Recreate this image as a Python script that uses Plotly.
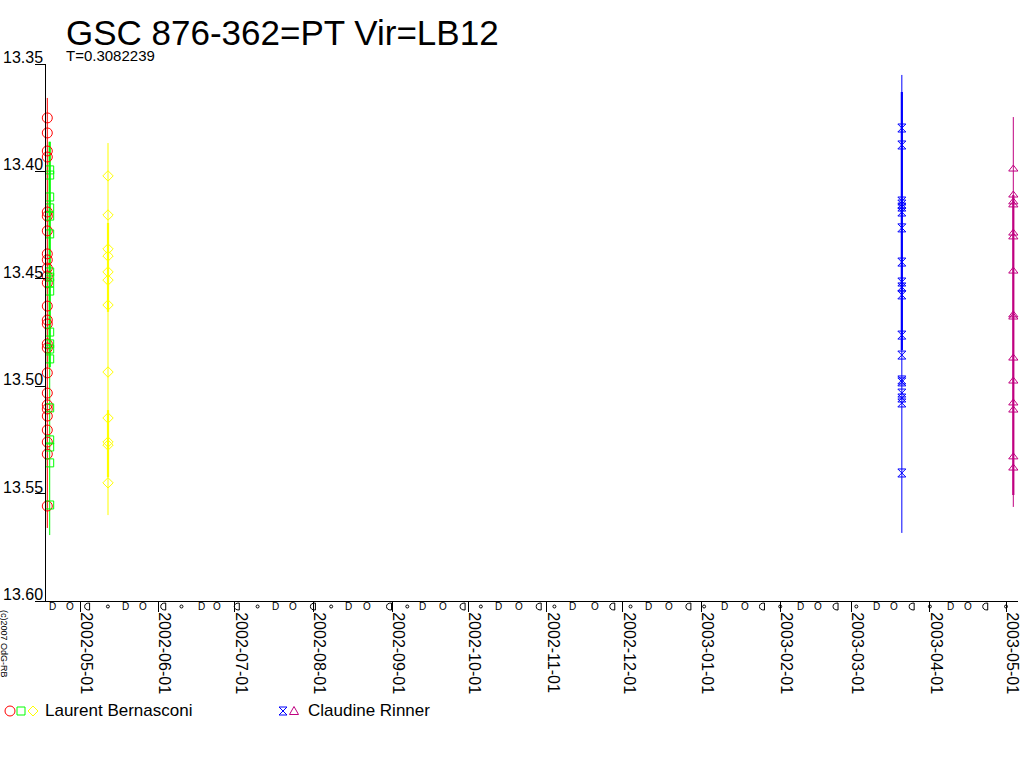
import plotly.graph_objects as go

# ---------------- data ----------------
title_text = "GSC 876-362=PT Vir=LB12"
period_text = "T=0.3082239"
credit_text = "(c)2007 OdG-RB"

x_range = ["2002-04-17 14:24", "2003-05-05 17:20"]
y_range = [13.60, 13.35]
y_ticks = [13.35, 13.40, 13.45, 13.50, 13.55, 13.60]
y_ticklabels = ["13.35", "13.40", "13.45", "13.50", "13.55", "13.60"]

observer_names = ["Laurent Bernasconi", "Claudine Rinner"]

# Laurent Bernasconi, night 1 (red circles)
lb1_date = "2002-04-18 02:40"
lb1_mag = [13.3751, 13.3821, 13.3905, 13.3933, 13.4189, 13.4208, 13.4277, 13.4384,
           13.4412, 13.4450, 13.4487, 13.4519, 13.4627, 13.4692, 13.4710, 13.4803,
           13.4822, 13.4938, 13.5032, 13.5087, 13.5106, 13.5139, 13.5204, 13.5260,
           13.5316, 13.5558]
lb1_span = [13.3658, 13.5660]
lb1_core = []

# Laurent Bernasconi, night 2 (green squares)
lb2_date = "2002-04-19 01:25"
lb2_mag = [13.3993, 13.4017, 13.4119, 13.4170, 13.4208, 13.4291, 13.4468, 13.4492,
           13.4519, 13.4557, 13.4748, 13.4803, 13.4827, 13.4873, 13.5101, 13.5250,
           13.5283, 13.5357, 13.5553]
lb2_span = [13.3862, 13.5693]
lb2_core = [[13.3862, 13.4911]]

# Laurent Bernasconi, night 3 (yellow diamonds)
lb3_date = "2002-05-12 01:00"
lb3_mag = [13.4021, 13.4203, 13.4361, 13.4394, 13.4468, 13.4506, 13.4622, 13.4934,
           13.5148, 13.5260, 13.5274, 13.5450]
lb3_span = [13.3868, 13.5600]
lb3_core = [[13.4240, 13.4654], [13.5111, 13.5423]]

# Claudine Rinner, night 1 (blue)
cr1_date = "2003-03-20 22:30"
cr1_mag = [13.3798, 13.3877, 13.4138, 13.4152, 13.4166, 13.4189, 13.4263, 13.4422,
           13.4515, 13.4538, 13.4575, 13.4762, 13.4855, 13.4971, 13.4980, 13.5032,
           13.5055, 13.5078, 13.5404]
cr1_span = [13.3551, 13.5683]
cr1_core = [[13.3630, 13.4831]]

# Claudine Rinner, night 2 (magenta triangles)
cr2_date = "2003-05-03 21:00"
cr2_mag = [13.3989, 13.4110, 13.4142, 13.4156, 13.4287, 13.4305, 13.4464, 13.4668,
           13.4678, 13.4869, 13.4976, 13.5078, 13.5111, 13.5329, 13.5381]
cr2_span = [13.3747, 13.5562]
cr2_core = [[13.4110, 13.5506]]

# Moon phases along the time axis
moon_new = ["2002-05-12", "2002-06-10", "2002-07-10", "2002-08-08", "2002-09-07",
            "2002-10-06", "2002-11-04", "2002-12-04", "2003-01-02", "2003-02-01",
            "2003-03-03", "2003-04-01", "2003-05-01"]
moon_first = ["2002-04-20", "2002-05-19", "2002-06-18", "2002-07-17", "2002-08-15",
              "2002-09-13", "2002-10-13", "2002-11-11", "2002-12-11", "2003-01-10",
              "2003-02-09", "2003-03-11", "2003-04-09"]
moon_full = ["2002-04-27", "2002-05-26", "2002-06-24", "2002-07-24", "2002-08-22",
             "2002-09-21", "2002-10-21", "2002-11-20", "2002-12-19", "2003-01-18",
             "2003-02-16", "2003-03-18", "2003-04-16"]
moon_last = ["2002-05-04", "2002-06-03", "2002-07-02", "2002-08-01", "2002-08-31",
             "2002-09-29", "2002-10-29", "2002-11-27", "2002-12-27", "2003-01-25",
             "2003-02-23", "2003-03-25", "2003-04-23"]

# ---------------- layout helpers ----------------
W, H = 1024, 768
L, R, T, B = 46, 1018, 64, 601
FONT = "Liberation Sans, Arial, sans-serif"


def pxx(x):
    return (x - L) / (R - L)


def pxy(y):
    return (B - y) / (B - T)


RED, GREEN, YELLOW, BLUE, MAGENTA = "#FF0000", "#00FF00", "#FFFF00", "#0000FF", "#C00080"

series = [
    (lb1_date, lb1_mag, lb1_span, lb1_core, RED, "circle-open", 10),
    (lb2_date, lb2_mag, lb2_span, lb2_core, GREEN, "square-open", 8),
    (lb3_date, lb3_mag, lb3_span, lb3_core, YELLOW, "diamond-open", 8),
    (cr1_date, cr1_mag, cr1_span, cr1_core, BLUE, "hourglass-open", 8),
    (cr2_date, cr2_mag, cr2_span, cr2_core, MAGENTA, "triangle-up-open", 8),
]

fig = go.Figure()

for date, mags, span, cores, color, sym, size in series:
    fig.add_trace(go.Scatter(x=[date, date], y=span, mode="lines",
                             line=dict(color=color, width=1), hoverinfo="skip",
                             showlegend=False))
    for c in cores:
        fig.add_trace(go.Scatter(x=[date, date], y=c, mode="lines",
                                 line=dict(color=color, width=2.2), hoverinfo="skip",
                                 showlegend=False))

for date, mags, span, cores, color, sym, size in series:
    fig.add_trace(go.Scatter(x=[date] * len(mags), y=mags, mode="markers",
                             marker=dict(symbol=sym, size=size, color=color,
                                         line=dict(color=color, width=1)),
                             cliponaxis=False, showlegend=False))

shapes = []
annotations = []

# moon phase glyphs just below the time axis
MOON_Y = pxy(606.5)
C_PATH = "M2,-3.5 L2,3.5 Q-3,3.5 -3,0 Q-3,-3.5 2,-3.5 Z"

for d in moon_new:
    shapes.append(dict(type="circle", xref="x", yref="paper", xsizemode="pixel",
                       ysizemode="pixel", xanchor=d, yanchor=MOON_Y,
                       x0=-1.5, x1=1.5, y0=-1.5, y1=1.5,
                       line=dict(color="black", width=1)))
for d in moon_last:
    shapes.append(dict(type="path", xref="x", yref="paper", xsizemode="pixel",
                       ysizemode="pixel", xanchor=d, yanchor=MOON_Y, path=C_PATH,
                       line=dict(color="black", width=1)))
for d in moon_first:
    annotations.append(dict(text="D", xref="x", yref="paper", x=d, y=MOON_Y,
                            xanchor="center", yanchor="middle", showarrow=False,
                            borderpad=0, font=dict(family=FONT, size=10, color="black")))
for d in moon_full:
    annotations.append(dict(text="O", xref="x", yref="paper", x=d, y=MOON_Y,
                            xanchor="center", yanchor="middle", showarrow=False,
                            borderpad=0, font=dict(family=FONT, size=10, color="black")))

# custom legend glyphs
LEG_Y = pxy(711)


def legend_shape(lx, color, kind):
    base = dict(xref="paper", yref="paper", xsizemode="pixel", ysizemode="pixel",
                xanchor=pxx(lx), yanchor=LEG_Y, line=dict(color=color, width=1))
    if kind == "circle":
        base.update(type="circle", x0=-5, x1=5, y0=-5, y1=5)
    elif kind == "square":
        base.update(type="rect", x0=-4, x1=4, y0=-4, y1=4)
    elif kind == "diamond":
        base.update(type="path", path="M0,5 L5,0 L0,-5 L-5,0 Z")
    elif kind == "hourglass":
        base.update(type="path", path="M-4,4 L4,4 L-4,-4 L4,-4 Z")
    else:
        base.update(type="path", path="M0,4.5 L4.5,-3.5 L-4.5,-3.5 Z")
    return base


for lx, color, kind in [(10, RED, "circle"), (21, GREEN, "square"),
                        (33, YELLOW, "diamond"), (283, BLUE, "hourglass"),
                        (294, MAGENTA, "triangle")]:
    shapes.append(legend_shape(lx, color, kind))

annotations.append(dict(
    text=("<span style='font-size:35px'>" + title_text + "</span><br>"
          "<span style='font-size:15px'>" + period_text + "</span>"),
    xref="paper", yref="paper", x=pxx(65), y=pxy(65), xanchor="left",
    yanchor="bottom", align="left", showarrow=False, borderpad=0,
    font=dict(family=FONT, size=12.5, color="black")))
annotations.append(dict(text=credit_text, xref="paper", yref="paper", x=pxx(4),
                        y=pxy(644), xanchor="center", yanchor="middle", showarrow=False,
                        textangle=90, font=dict(family=FONT, size=9, color="black")))
for v, t in zip(y_ticks, y_ticklabels):
    annotations.append(dict(text=t, xref="paper", yref="y", x=pxx(45), y=v,
                            yshift=-4, xanchor="right", yanchor="bottom",
                            showarrow=False,
                            font=dict(family=FONT, size=16, color="black")))
for name, lx in zip(observer_names, [43, 306]):
    annotations.append(dict(text=name, xref="paper", yref="paper", x=pxx(lx),
                            y=pxy(710), xanchor="left", yanchor="middle",
                            showarrow=False,
                            font=dict(family=FONT, size=17, color="black")))

fig.update_layout(
    width=W, height=H,
    margin=dict(l=L, r=W - R, t=T, b=H - B, pad=0, autoexpand=False),
    paper_bgcolor="white", plot_bgcolor="white",
    showlegend=False,
    font=dict(family=FONT, color="black"),
    annotations=annotations,
    shapes=shapes,
    xaxis=dict(type="date", range=x_range, showgrid=False, zeroline=False,
               automargin=False,
               showline=True, linecolor="black", linewidth=1,
               ticks="outside", ticklen=10, tickcolor="black", tickwidth=1,
               tick0="2002-05-01", dtick="M1", tickformat="%Y-%m-%d",
               tickangle=90, ticklabelshift=6, ticklabelstandoff=-3,
               tickfont=dict(family=FONT, size=16, color="black")),
    yaxis=dict(range=y_range, showgrid=False, zeroline=False, automargin=False,
               showline=True, linecolor="black", linewidth=1,
               ticks="outside", ticklen=10, tickcolor="black", tickwidth=1,
               tickvals=y_ticks, showticklabels=False),
)

fig.write_html("out.html", config={"displayModeBar": False},
               post_script="document.body.style.margin='0';document.body.style.padding='0';")
